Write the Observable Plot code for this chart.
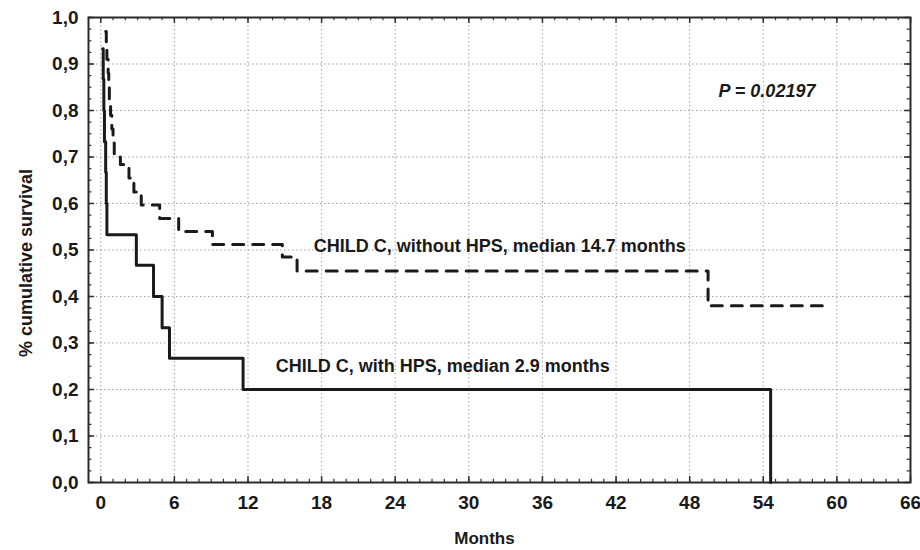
<!DOCTYPE html>
<html>
<head>
<meta charset="utf-8">
<script src="https://cdn.jsdelivr.net/npm/d3@7"></script>
<script src="https://cdn.jsdelivr.net/npm/@observablehq/plot@0.6"></script>
<style>
  html, body { margin: 0; padding: 0; background: #fff; }
  #chart svg { display: block; }
</style>
</head>
<body>
<div id="chart"></div>
<script>
// Kaplan-Meier step data (month at which the survival level starts)
const hpsMonths   = [0.15, 0.2, 0.25, 0.3, 0.4, 0.45, 0.5, 2.9, 4.3, 5.0, 5.6, 11.6, 54.6];
const hpsSurvival = [0.933, 0.867, 0.8, 0.733, 0.667, 0.6, 0.533, 0.467, 0.4, 0.333, 0.267, 0.2, 0.0];

const noHpsMonths   = [0.4, 0.45, 0.5, 0.6, 0.65, 0.7, 0.8, 0.9, 1.0, 1.1, 1.6, 2.3, 2.7, 3.3, 4.8, 6.35, 9.1, 14.8, 16.0, 49.5, 59.2];
const noHpsSurvival = [0.97, 0.94, 0.91, 0.88, 0.85, 0.82, 0.79, 0.76, 0.73, 0.70, 0.684, 0.655, 0.625, 0.597, 0.568, 0.54, 0.512, 0.485, 0.455, 0.38, 0.38];

// Annotations
const noteTexts    = ["CHILD C, without HPS, median 14.7 months", "CHILD C, with HPS, median 2.9 months"];
const noteMonths   = [17.36, 14.26];
const noteSurvival = [0.509, 0.251];
const pText = ["P = 0.02197"];
const pMonth = [54.3];
const pSurvival = [0.841];

// Axis ticks
const xTicks = [0, 6, 12, 18, 24, 30, 36, 42, 48, 54, 60, 66];
const yTicks = [0, 0.1, 0.2, 0.3, 0.4, 0.5, 0.6, 0.7, 0.8, 0.9, 1.0];
const xMinor = d3.range(-1, 67, 1);
const yMinor = d3.range(0, 1.0001, 0.025);

// Axis titles and their anchor positions (data units)
const yLabel = ["% cumulative survival"];
const yLabelMonth = [-6.1];
const yLabelSurvival = [0.472];
const xLabel = ["Months"];

const hps = hpsMonths.map((m, i) => ({month: m, survival: hpsSurvival[i]}));
const noHps = noHpsMonths.map((m, i) => ({month: m, survival: noHpsSurvival[i]}));
const notes = noteTexts.map((t, i) => ({text: t, month: noteMonths[i], survival: noteSurvival[i]}));
const pNote = pText.map((t, i) => ({text: t, month: pMonth[i], survival: pSurvival[i]}));
const yTitle = yLabel.map((t, i) => ({text: t, month: yLabelMonth[i], survival: yLabelSurvival[i]}));

const font = "'Liberation Sans', Arial, Helvetica, sans-serif";
const ink = "#1a1a1a";
const grid = {stroke: "#8a8a8a", strokeOpacity: 0.8, strokeWidth: 1, strokeDasharray: "1.5,2.5"};

const chart = Plot.plot({
  width: 920,
  height: 550,
  marginLeft: 88,
  marginRight: 10,
  marginTop: 17,
  marginBottom: 68,
  style: {fontFamily: font, fontSize: "17px", fontWeight: "bold", color: ink, background: "#fff", overflow: "visible"},
  x: {domain: [-1, 66]},
  y: {domain: [0, 1]},
  marks: [
    Plot.gridX(xTicks, grid),
    Plot.gridY(yTicks, grid),
    // inward minor / major ticks on all four sides
    Plot.ruleX(xMinor, {x: d => d, y1: 0, y2: 0.007, stroke: "#333", strokeWidth: 1.2}),
    Plot.ruleX(xMinor, {x: d => d, y1: 1, y2: 0.993, stroke: "#333", strokeWidth: 1.2}),
    Plot.ruleX(xTicks, {x: d => d, y1: 0, y2: 0.013, stroke: "#333", strokeWidth: 1.5}),
    Plot.ruleX(xTicks, {x: d => d, y1: 1, y2: 0.987, stroke: "#333", strokeWidth: 1.5}),
    Plot.ruleY(yMinor, {y: d => d, x1: -1, x2: -0.72, stroke: "#333", strokeWidth: 1.2}),
    Plot.ruleY(yMinor, {y: d => d, x1: 66, x2: 65.72, stroke: "#333", strokeWidth: 1.2}),
    Plot.ruleY(yTicks, {y: d => d, x1: -1, x2: -0.5, stroke: "#333", strokeWidth: 1.5}),
    Plot.ruleY(yTicks, {y: d => d, x1: 66, x2: 65.5, stroke: "#333", strokeWidth: 1.5}),
    Plot.axisX(xTicks, {anchor: "bottom", tickSize: 0, tickPadding: 13, tickFormat: d => String(d), label: null, fontSize: 19, fill: ink}),
    Plot.axisY(yTicks, {anchor: "left", tickSize: 0, tickPadding: 10, tickFormat: d => d.toFixed(1).replace(".", ","), label: null, fontSize: 19, fill: ink}),
    Plot.frame({stroke: "#2a2a2a", strokeWidth: 2}),
    Plot.line(hps, {x: "month", y: "survival", curve: "step-after", stroke: ink, strokeWidth: 3}),
    Plot.line(noHps, {x: "month", y: "survival", curve: "step-after", stroke: ink, strokeWidth: 3, strokeDasharray: "11,9"}),
    Plot.text(notes, {x: "month", y: "survival", text: "text", textAnchor: "start", fontSize: 18, fill: ink}),
    Plot.text(pNote, {x: "month", y: "survival", text: "text", textAnchor: "middle", fontSize: 18, fontStyle: "italic", fill: ink}),
    Plot.text(yTitle, {x: "month", y: "survival", text: "text", rotate: -90, textAnchor: "middle", fontSize: 18, fill: ink}),
    Plot.text(xLabel, {text: d => d, frameAnchor: "bottom", dy: 61, dx: -15, fontSize: 17, fill: ink})
  ]
});

document.getElementById("chart").appendChild(chart);
</script>
</body>
</html>
